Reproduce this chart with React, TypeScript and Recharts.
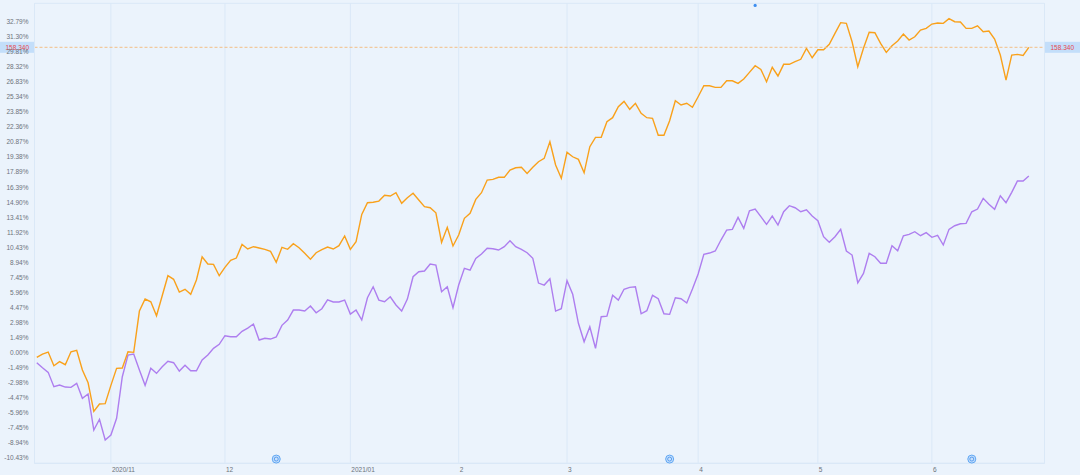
import React from "react";
import { LineChart, Line, XAxis, YAxis, CartesianGrid, ReferenceLine, ReferenceDot } from "recharts";

// trading days from 2020/10/14 to 2021/06/24, cumulative return in %
const fundReturn = [
  -0.5, -0.17, 0.03, -1.33, -0.93, -1.23, 0.06, 0.2, -1.76, -3.02,
  -5.86, -5.13, -5.1, -3.28, -1.59, -1.56, 0.06, 0.0, 4.1, 5.29,
  5.02, 3.63, 5.62, 7.61, 7.25, 5.99, 6.26, 5.76, 7.18, 9.49,
  8.77, 8.74, 7.61, 8.44, 9.14, 9.36, 10.72, 10.26, 10.49, 10.36,
  10.23, 10.03, 8.94, 10.43, 10.23, 10.78, 10.39, 9.83, 9.24, 9.89,
  10.19, 10.46, 10.26, 10.59, 11.55, 10.23, 10.98, 13.7, 14.86, 14.9,
  15.02, 15.59, 15.52, 15.85, 14.8, 15.35, 15.79, 15.12, 14.46, 14.36,
  13.86, 10.92, 12.41, 10.56, 11.65, 13.31, 13.8, 15.19, 15.85, 17.11,
  17.18, 17.38, 17.38, 18.1, 18.33, 18.37, 17.77, 18.37, 18.93, 19.26,
  20.91, 18.6, 17.28, 19.86, 19.42, 19.16, 17.83, 20.42, 21.35, 21.35,
  22.9, 23.3, 24.39, 24.92, 24.13, 24.73, 23.73, 23.3, 23.24, 21.55,
  21.55, 23.0, 24.98, 24.56, 24.73, 24.33, 25.38, 26.47, 26.47, 26.31,
  26.31, 26.97, 26.97, 26.71, 27.14, 27.8, 28.46, 28.1, 26.87, 28.3,
  27.44, 28.6, 28.6, 28.86, 29.1, 30.19, 29.25, 30.05, 30.05, 30.58,
  31.68, 32.74, 32.67, 30.84, 28.36, 30.19, 31.78, 31.74, 30.68, 29.79,
  30.45, 30.91, 31.61, 31.01, 31.34, 32.0, 32.17, 32.6, 32.7, 32.67,
  33.13, 32.83, 32.8, 32.17, 32.17, 32.43, 31.84, 31.91, 31.11, 29.52,
  27.04, 29.52, 29.59, 29.49, 30.29,
];

const benchReturn = [
  -1.03, -1.53, -1.99, -3.42, -3.25, -3.45, -3.48, -3.08, -4.57, -4.14,
  -7.72, -6.65, -8.71, -8.21, -6.55, -2.42, -0.27, -0.17, -1.76, -3.28,
  -1.59, -2.09, -1.43, -0.89, -1.03, -1.86, -1.29, -1.83, -1.83, -0.76,
  -0.27, 0.4, 0.79, 1.65, 1.55, 1.55, 2.09, 2.41, 2.81, 1.22,
  1.39, 1.32, 1.52, 2.68, 3.21, 4.2, 4.2, 4.1, 4.6, 3.93,
  4.33, 5.22, 5.0, 5.0, 5.19, 3.8, 4.2, 3.21, 5.42, 6.51,
  5.19, 5.02, 5.52, 4.7, 4.1, 5.29, 7.51, 8.0, 8.07, 8.77,
  8.67, 6.02, 6.51, 4.43, 6.68, 8.34, 8.17, 9.33, 9.76, 10.33,
  10.29, 10.16, 10.49, 11.08, 10.49, 10.23, 9.89, 9.33, 6.88, 6.68,
  7.31, 4.1, 4.33, 7.11, 5.76, 2.88, 1.05, 2.54, 0.4, 3.54,
  3.6, 5.66, 5.19, 6.26, 6.45, 6.51, 3.83, 4.13, 5.66, 5.32,
  3.83, 3.77, 5.42, 5.32, 4.9, 6.29, 7.78, 9.73, 9.86, 10.06,
  11.15, 12.14, 12.21, 13.4, 12.31, 14.06, 14.23, 13.47, 12.71, 13.53,
  12.64, 13.96, 14.56, 14.36, 13.96, 14.16, 13.53, 13.07, 11.48, 10.92,
  11.48, 12.21, 10.06, 9.66, 6.91, 7.84, 9.83, 9.49, 8.84, 8.84,
  10.59, 10.09, 11.58, 11.72, 11.98, 11.58, 11.88, 11.42, 11.62, 10.66,
  12.21, 12.57, 12.77, 12.81, 13.96, 14.23, 15.29, 14.7, 14.2, 15.55,
  14.86, 15.89, 17.01, 17.01, 17.51,
];

// first trading day of each month
const monthIdx = [13, 33, 55, 74, 93, 116, 137, 157];
const monthLabels = ["2020/11", "12", "2021/01", "2", "3", "4", "5", "6"];

const yTicks = [
  -10.43, -8.94, -7.45, -5.96, -4.47, -2.98, -1.49, 0, 1.49, 2.98,
  4.47, 5.96, 7.45, 8.94, 10.43, 11.92, 13.41, 14.9, 16.39, 17.89,
  19.38, 20.87, 22.36, 23.85, 25.34, 26.83, 28.32, 29.81, 31.3, 32.79,
];

const eventIdx = [42, 111, 164];
const noticeIdx = [126];
const lastPrice = "158.340";

const data = fundReturn.map((v, i) => ({ i, fund: v, bench: benchReturn[i] }));

const BG = "#EBF3FC";
const GRID = "#DAE8F7";
const TXT = "#6b727b";
const FONT = "'Liberation Sans', Arial, sans-serif";

const MonthTick = (props: any) => {
  const { x, y, payload } = props;
  const k = monthIdx.indexOf(payload.value);
  return (
    <text x={x + 1} y={y + 8.5} fontSize={6.5} fill={TXT} textAnchor="start" fontFamily={FONT}>
      {monthLabels[k]}
    </text>
  );
};

const PriceTag = (props: any) => {
  const { x, y, width } = props.viewBox;
  const right = x + width;
  return (
    <g>
      <rect x={0} y={y - 5.5} width={x} height={11} fill="#C3DEFA" />
      <text x={x / 2} y={y} dy="0.35em" textAnchor="middle" fontSize={6.5} fill="#E5484D" fontFamily={FONT}>
        {lastPrice}
      </text>
      <rect x={right} y={y - 5.5} width={1080 - right} height={11} fill="#C3DEFA" />
      <text x={(right + 1080) / 2} y={y} dy="0.35em" textAnchor="middle" fontSize={6.5} fill="#E5484D" fontFamily={FONT}>
        {lastPrice}
      </text>
    </g>
  );
};

const EventMark = (props: any) => {
  const { cx, cy } = props;
  return (
    <g>
      <circle cx={cx} cy={cy} r={4} fill="#C9E1FB" stroke="#5EA6F4" strokeWidth={1} />
      <circle cx={cx} cy={cy} r={2} fill="none" stroke="#3B8BEE" strokeWidth={0.8} />
    </g>
  );
};

const fmt = (v: number) => v.toFixed(2) + "%";

export default function App() {
  return (
    <div style={{ width: 1080, height: 475, background: BG }}>
      <style>{`body{margin:0}`}</style>
      <LineChart
        width={1080}
        height={475}
        data={data}
        margin={{ top: 3.3, right: 0, bottom: 0, left: 0 }}
        style={{ fontFamily: FONT }}
      >
        <CartesianGrid stroke={GRID} strokeWidth={1} />
        <XAxis
          dataKey="i"
          type="number"
          domain={[-0.4, 176.75]}
          ticks={monthIdx}
          tick={<MonthTick />}
          tickLine={false}
          tickSize={0}
          tickMargin={0}
          height={11.7}
          axisLine={{ stroke: GRID }}
          interval={0}
        />
        <XAxis xAxisId="top" orientation="top" dataKey="i" type="number" domain={[-0.4, 176.75]} height={0} tick={false} tickLine={false} axisLine={{ stroke: GRID }} />
        <YAxis
          yAxisId="left"
          orientation="left"
          width={34.5}
          domain={[-11.02, 34.66]}
          ticks={yTicks}
          interval={0}
          tickFormatter={fmt}
          tick={{ fontSize: 6.5, fill: TXT }}
          tickLine={false}
          tickSize={4}
          tickMargin={2}
          axisLine={{ stroke: GRID }}
        />
        <YAxis
          yAxisId="right"
          orientation="right"
          width={35.5}
          domain={[-11.02, 34.66]}
          ticks={yTicks}
          interval={0}
          tickFormatter={fmt}
          tick={{ fontSize: 6.5, fill: TXT, textAnchor: "start" }}
          tickLine={false}
          tickSize={3}
          tickMargin={1.5}
          axisLine={{ stroke: GRID }}
        />
        <Line yAxisId="left" type="linear" dataKey="bench" stroke="#AE7EEF" strokeWidth={1.4} dot={false} activeDot={false} isAnimationActive={false} />
        <Line yAxisId="left" type="linear" dataKey="fund" stroke="#F9A11B" strokeWidth={1.4} dot={false} activeDot={false} isAnimationActive={false} />
        <ReferenceLine
          yAxisId="left"
          y={fundReturn[fundReturn.length - 1]}
          stroke="#F3BE86"
          strokeDasharray="3 2"
          strokeWidth={1}
          label={(p: any) => <PriceTag {...p} />}
        />
        {eventIdx.map((ix) => (
          <ReferenceDot key={ix} yAxisId="left" x={ix} y={-10.6} r={4} shape={(p: any) => <EventMark {...p} />} />
        ))}
        {noticeIdx.map((ix) => (
          <ReferenceDot key={"n" + ix} yAxisId="left" x={ix} y={34.45} r={1.6} fill="#3D8EF0" stroke="none" />
        ))}
      </LineChart>
    </div>
  );
}
